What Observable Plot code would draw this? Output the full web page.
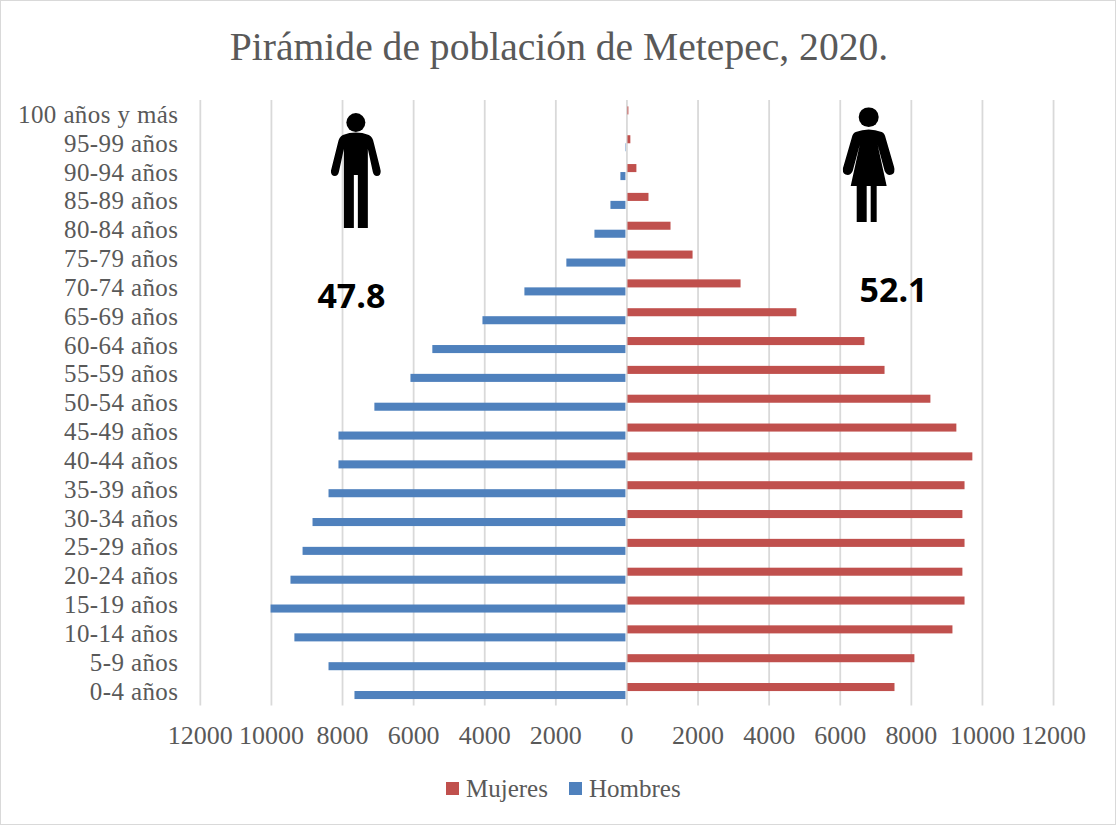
<!DOCTYPE html>
<html><head><meta charset="utf-8">
<script src="https://cdn.jsdelivr.net/npm/d3@7"></script>
<script src="https://cdn.jsdelivr.net/npm/@observablehq/plot@0.6"></script>
<style>
html,body{margin:0;padding:0;background:#fff}
#chart{position:relative;width:1114px;height:823px;border:1px solid #d9d9d9;overflow:hidden;font-family:"Liberation Serif",serif;color:#595959}
#title{position:absolute;left:0;top:23px;width:1116px;text-align:center;font-size:39.6px;line-height:46px;white-space:nowrap}
#plot{position:absolute;left:-1px;top:91px}
.lg{position:absolute;top:773px;font-size:25px;line-height:30px;white-space:nowrap}
.sw{position:absolute;top:781px;width:13px;height:13px}
</style></head><body>
<div id="chart"><div id="title">Pirámide de población de Metepec, 2020.</div><div id="plot"></div>
<i class="sw" style="left:445px;background:#c0504d"></i><span class="lg" style="left:465px">Mujeres</span>
<i class="sw" style="left:568px;background:#4f81bd"></i><span class="lg" style="left:588px">Hombres</span></div>
<script>
const ages=["100 años y más","95-99 años","90-94 años","85-89 años","80-84 años","75-79 años","70-74 años","65-69 años","60-64 años","55-59 años","50-54 años","45-49 años","40-44 años","35-39 años","30-34 años","25-29 años","20-24 años","15-19 años","10-14 años","5-9 años","0-4 años"];
const hombres=[20,40,170,450,900,1690,2870,4050,5460,6075,7090,8100,8100,8380,8830,9110,9450,10010,9340,8380,7650];
const mujeres=[55,110,280,620,1240,1860,3210,4780,6695,7260,8550,9280,9730,9510,9450,9510,9450,9510,9170,8100,7540];
const xTicks=[-12000,-10000,-8000,-6000,-4000,-2000,0,2000,4000,6000,8000,10000,12000];
const shareH=[{x:-7750,y:"70-74 años",t:"47.8"}];
const shareM=[{x:7500,y:"70-74 años",t:"52.1"}];
const man=`<svg xmlns="http://www.w3.org/2000/svg" viewBox="0 0 50 115"><circle cx="25" cy="9.5" r="9.5"/><path d="M12 22 Q25 17 38 22 Q42 24 43 30 L50 58 Q50 63 46 63 Q43 63 42 59 L37 36 V115 H27 V62 H23 V115 H13 V36 L8 59 Q7 63 4 63 Q0 63 0 58 L7 30 Q8 24 12 22Z"/></svg>`;
const woman=`<svg xmlns="http://www.w3.org/2000/svg" viewBox="0 0 52 115"><circle cx="26" cy="10" r="10"/><path d="M13 25 Q26 20 39 25 Q42 26 43 31 L52 62 Q52 68 47 68 Q44 68 42 64 L35 38 L44 79 H34 V115 H28 V79 H24 V115 H14 V79 H8 L17 38 L10 64 Q8 68 5 68 Q0 68 0 62 L9 31 Q10 26 13 25Z"/></svg>`;
const uri=s=>"data:image/svg+xml;utf8,"+encodeURIComponent(s);
const rows=ages.map((a,i)=>({age:a,h:hombres[i],m:mujeres[i]}));
const p=Plot.plot({
  width:1116,height:660,marginLeft:200,marginRight:62,marginTop:8,marginBottom:46,
  style:{fontFamily:"Liberation Serif, serif",background:"transparent",overflow:"visible"},
  x:{domain:[-12000,12000],label:null},
  y:{domain:ages,label:null,padding:0,type:"band",round:false},
  marks:[
    Plot.ruleX(xTicks,{stroke:"#d9d9d9",strokeWidth:1.8}),
    Plot.barX(rows,{x1:d=>-d.h,x2:0,y:"age",fill:"#4f81bd",insetTop:14.4,insetBottom:6.4,insetRight:1}),
    Plot.barX(rows,{x1:0,x2:"m",y:"age",fill:"#c0504d",insetTop:6.4,insetBottom:14.4,insetLeft:1}),
    Plot.axisX({ticks:xTicks,tickFormat:d=>String(Math.abs(d)),tickSize:0,tickPadding:20,fontSize:26,fill:"#595959",label:null,anchor:"bottom",lineAnchor:"top"}),
    Plot.axisY({tickSize:0,tickPadding:22,fontSize:25,fill:"#595959",label:null,anchor:"left"}),
    Plot.text(shareH,{x:"x",y:"y",text:"t",fontSize:34,fontWeight:"bold",fontFamily:"Open Sans, sans-serif",fill:"#000",dy:9}),
    Plot.text(shareM,{x:"x",y:"y",text:"t",fontSize:34,fontWeight:"bold",fontFamily:"Open Sans, sans-serif",fill:"#000",dy:3}),
    Plot.image([{x:-7625,y:"90-94 años",src:uri(man)}],{x:"x",y:"y",src:"src",width:50,height:115,preserveAspectRatio:"none",dy:-2}),
    Plot.image([{x:6800,y:"90-94 años",src:uri(woman)}],{x:"x",y:"y",src:"src",width:52,height:115,preserveAspectRatio:"none",dy:-8})
  ]
});
d3.select(p).selectAll('[aria-label="y-axis tick label"]').style("letter-spacing","0.4px");
document.getElementById("plot").appendChild(p);
</script></body></html>
